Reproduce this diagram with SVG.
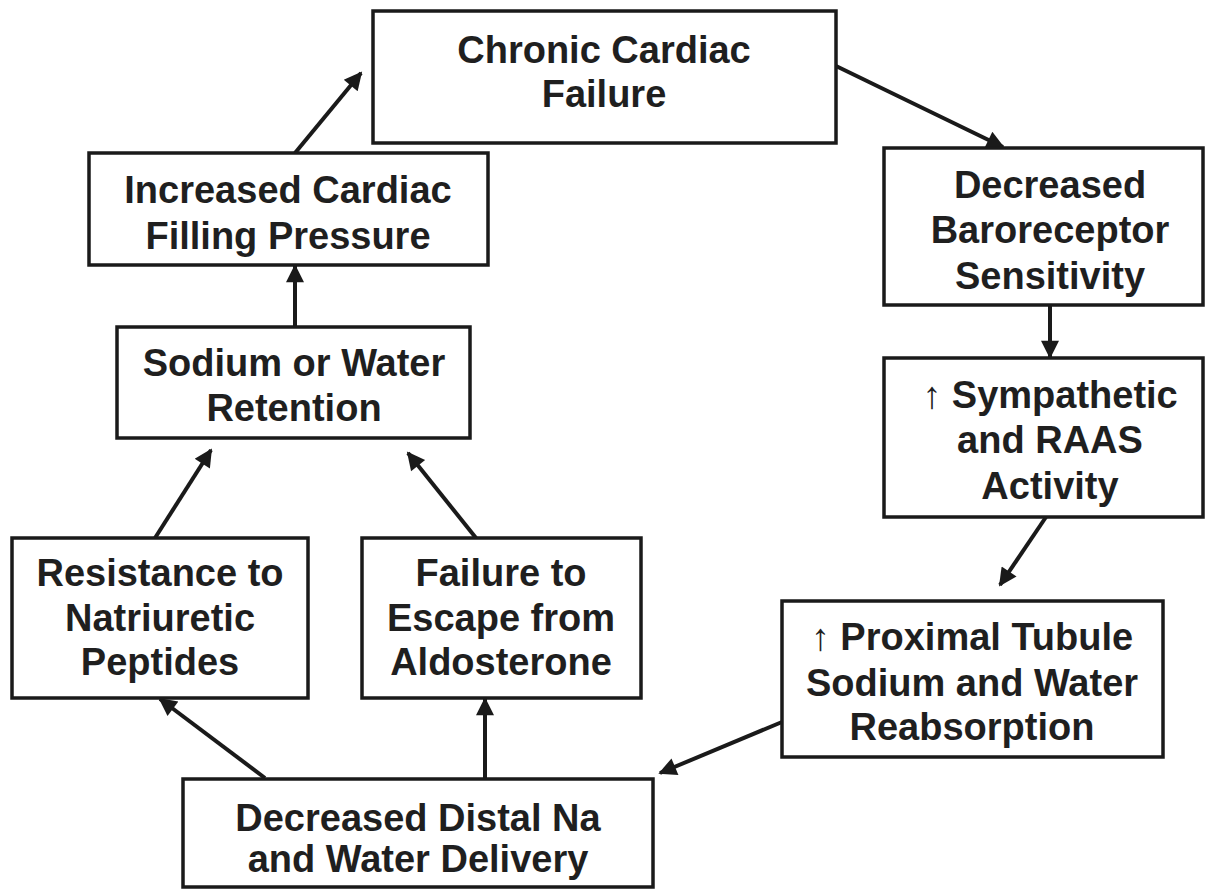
<svg xmlns="http://www.w3.org/2000/svg" width="1206" height="891" viewBox="0 0 1206 891">
<defs>
<marker id="ah" viewBox="0 0 10 10" refX="9" refY="5" markerWidth="5" markerHeight="4.5" markerUnits="strokeWidth" orient="auto">
<path d="M0,0 L10,5 L0,10 z" fill="#1a1a1a"/>
</marker>
<style>
.box{fill:#fff;stroke:#1a1a1a;stroke-width:3.5}
.t{font-family:"Liberation Sans",Arial,sans-serif;font-weight:bold;font-size:38px;fill:#1f1f1f;text-anchor:middle}
.c{stroke:#1a1a1a;stroke-width:4;fill:none;marker-end:url(#ah)}
</style>
</defs>
<rect width="1206" height="891" fill="#fff"/>
<g id="connectors">
<line class="c" x1="295" y1="153" x2="361" y2="73"/>
<line class="c" x1="836" y1="66" x2="1003" y2="147"/>
<line class="c" x1="1050" y1="305" x2="1050" y2="357"/>
<line class="c" x1="1046" y1="517" x2="1000" y2="585"/>
<line class="c" x1="782" y1="722" x2="660" y2="773"/>
<line class="c" x1="265" y1="778" x2="160" y2="699"/>
<line class="c" x1="485" y1="778" x2="485" y2="699"/>
<line class="c" x1="155" y1="538" x2="211" y2="450"/>
<line class="c" x1="476" y1="538" x2="408" y2="453"/>
<line class="c" x1="295" y1="327" x2="295" y2="266"/>
</g>
<g id="n1">
<rect class="box" x="373" y="11" width="463" height="132"/>
<text class="t" x="604" y="63">Chronic Cardiac</text>
<text class="t" x="604" y="107">Failure</text>
</g>
<g id="n2">
<rect class="box" x="884" y="148" width="319" height="157"/>
<text class="t" x="1050" y="198">Decreased</text>
<text class="t" x="1050" y="243">Baroreceptor</text>
<text class="t" x="1050" y="289">Sensitivity</text>
</g>
<g id="n3">
<rect class="box" x="884" y="358" width="319" height="159"/>
<text class="t" x="1050" y="408">↑ Sympathetic</text>
<text class="t" x="1050" y="453">and RAAS</text>
<text class="t" x="1050" y="499">Activity</text>
</g>
<g id="n4">
<rect class="box" x="782" y="601" width="381" height="156"/>
<text class="t" x="972" y="650">↑ Proximal Tubule</text>
<text class="t" x="972" y="696">Sodium and Water</text>
<text class="t" x="972" y="740">Reabsorption</text>
</g>
<g id="n5">
<rect class="box" x="183" y="779" width="470" height="108"/>
<text class="t" x="418" y="831">Decreased Distal Na</text>
<text class="t" x="418" y="872">and Water Delivery</text>
</g>
<g id="n6">
<rect class="box" x="12" y="538" width="296" height="160"/>
<text class="t" x="160" y="586">Resistance to</text>
<text class="t" x="160" y="631">Natriuretic</text>
<text class="t" x="160" y="675">Peptides</text>
</g>
<g id="n7">
<rect class="box" x="362" y="538" width="279" height="160"/>
<text class="t" x="501" y="586">Failure to</text>
<text class="t" x="501" y="631">Escape from</text>
<text class="t" x="501" y="675">Aldosterone</text>
</g>
<g id="n8">
<rect class="box" x="117" y="327" width="353" height="111"/>
<text class="t" x="294" y="376">Sodium or Water</text>
<text class="t" x="294" y="421">Retention</text>
</g>
<g id="n9">
<rect class="box" x="89" y="153" width="399" height="112"/>
<text class="t" x="288" y="203">Increased Cardiac</text>
<text class="t" x="288" y="249">Filling Pressure</text>
</g>
</svg>
